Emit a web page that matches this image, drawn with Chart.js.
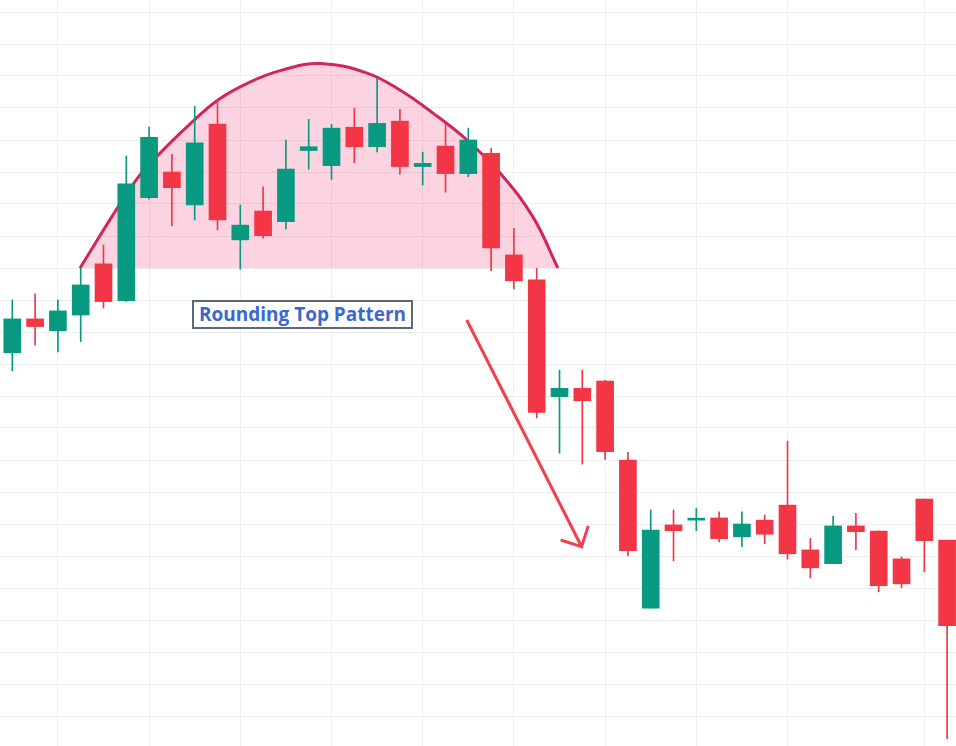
<!DOCTYPE html>
<html lang="en">
<head>
    <meta charset="UTF-8">
    <title>Rounding Top Pattern</title>
    <script src="https://cdn.jsdelivr.net/npm/chart.js"></script>
    <style>
        html, body { margin: 0; padding: 0; background: #fff; }
        #wrap { position: relative; width: 956px; height: 746px; overflow: hidden; }
        #label {
            position: absolute; left: 192px; top: 300px; width: 217px; height: 25px;
            border: 2px solid #5a6878; background: #fff;
            font: 700 19px "Open Sans", sans-serif; color: #3a68d2;
            line-height: 25px; text-align: center; white-space: nowrap;
        }
    </style>
</head>
<body>
    <div id="wrap">
        <canvas id="candleChart"></canvas>
        <div id="label">Rounding Top Pattern</div>
    </div>
    <script>
        // one entry per candle
        const opens  = [213.5, 224.1, 220.4, 225.3, 241.3, 229.8, 262.0, 270.0, 259.7, 285.0,
                        248.8, 257.8, 254.5, 276.7, 272.0, 284.0, 277.9, 285.9, 271.7, 278.1,
                        269.5, 275.8, 244.1, 236.3, 199.8, 202.4, 204.7, 180.0, 133.7, 159.7,
                        161.2, 161.9, 156.0, 161.2, 165.9, 151.9, 147.6, 159.4, 157.8, 149.1,
                        167.8, 155.0];
        const highs  = [230.0, 231.9, 230.0, 240.0, 247.2, 275.0, 284.0, 275.5, 290.6, 292.5,
                        259.7, 265.4, 280.0, 286.5, 284.9, 289.9, 299.3, 289.6, 276.2, 284.9,
                        283.7, 277.4, 252.4, 239.9, 208.1, 208.1, 204.9, 182.4, 164.4, 164.4,
                        164.9, 163.8, 163.8, 162.8, 185.9, 155.5, 162.5, 163.3, 157.8, 149.7,
                        167.8, 155.0];
        const lows   = [207.9, 215.9, 213.8, 217.0, 227.5, 229.5, 261.5, 253.2, 255.0, 251.9,
                        239.6, 249.3, 252.2, 270.9, 267.7, 272.9, 276.3, 269.3, 265.9, 263.7,
                        268.5, 239.2, 233.5, 193.2, 182.1, 178.7, 180.2, 150.1, 133.7, 148.5,
                        157.9, 154.4, 152.9, 153.8, 149.0, 143.2, 147.6, 152.0, 138.8, 140.1,
                        145.1,  92.9];
        const closes = [224.1, 221.7, 226.6, 234.7, 229.5, 266.3, 280.8, 265.1, 279.1, 255.0,
                        253.4, 250.1, 270.9, 277.9, 283.7, 277.9, 285.2, 271.7, 272.7, 269.5,
                        280.0, 246.3, 236.0, 194.9, 202.4, 198.5, 182.6, 151.7, 158.1, 157.9,
                        161.8, 155.4, 160.0, 156.8, 150.7, 146.3, 159.4, 157.6, 140.7, 141.3,
                        154.8, 128.2];

        // rounding top outline (x = candle index)
        const arcX = [2.97, 4.64, 5.60, 6.48, 7.66, 9.02, 10.42, 11.87, 13.50, 15.56, 17.0, 18.45, 19.94, 21.39, 22.84, 23.93];
        const arcY = [240.0, 259.1, 269.1, 275.9, 284.1, 292.5, 298.1, 301.9, 303.9, 300.9, 295.6, 288.4, 280.0, 269.7, 255.9, 240.0];
        const arcBase = 240;

        // arrow shaft and head
        const arrowX = [19.93, 24.97];
        const arrowY = [223.75, 152.9];
        const headX = [24.05, 24.97, 25.26];
        const headY = [155.0, 152.9, 159.4];

        // grid positions
        const xGrid = [2, 6, 10, 14, 18, 22, 26, 30, 34, 40];
        const yGrid = [100, 110, 120, 130, 140, 150, 160, 170, 180, 190, 200, 210, 220,
                       230, 240, 250, 260, 270, 280, 290, 300, 310, 320];

        const UP = '#089981';
        const DOWN = '#f23645';
        const candleColors = opens.map((o, i) => closes[i] >= o ? UP : DOWN);

        const bodies = opens.map((o, i) => ({ x: i, y: [o, closes[i]] }));
        const wicks = lows.map((l, i) => ({ x: i, y: [l, highs[i]] }));
        const arc = arcX.map((x, i) => ({ x: x, y: arcY[i] }));
        const arrow = arrowX.map((x, i) => ({ x: x, y: arrowY[i] }));
        const head = headX.map((x, i) => ({ x: x, y: headY[i] }));

        const ctx = document.getElementById('candleChart').getContext('2d');
        new Chart(ctx, {
            type: 'bar',
            data: {
                datasets: [
                    {
                        type: 'line',
                        data: arc,
                        borderColor: '#d2245f',
                        borderWidth: 3,
                        backgroundColor: 'rgba(242, 80, 130, 0.25)',
                        fill: { value: arcBase },
                        tension: 0.4,
                        pointRadius: 0,
                        order: 3,
                    },
                    {
                        data: wicks,
                        backgroundColor: candleColors,
                        barThickness: 1,
                        grouped: false,
                        order: 2,
                    },
                    {
                        data: bodies,
                        backgroundColor: candleColors,
                        barThickness: 17,
                        minBarLength: 2,
                        grouped: false,
                        order: 1,
                    },
                    {
                        type: 'line',
                        data: arrow,
                        borderColor: '#f0404f',
                        borderWidth: 3,
                        pointRadius: 0,
                        fill: false,
                        order: 0,
                    },
                    {
                        type: 'line',
                        data: head,
                        borderColor: '#f0404f',
                        borderWidth: 3,
                        pointRadius: 0,
                        fill: false,
                        order: 0,
                    },
                ],
            },
            options: {
                responsive: true,
                maintainAspectRatio: false,
                animation: false,
                layout: { padding: 0 },
                plugins: {
                    legend: { display: false },
                    tooltip: { enabled: false },
                },
                scales: {
                    x: {
                        type: 'linear',
                        min: -0.54,
                        max: 41.39,
                        offset: false,
                        afterBuildTicks: (scale) => { scale.ticks = xGrid.map(v => ({ value: v })); },
                        ticks: { display: false },
                        grid: { color: '#efefef', drawTicks: false, offset: false },
                        border: { display: false },
                    },
                    y: {
                        min: 90.625,
                        max: 323.75,
                        afterBuildTicks: (scale) => { scale.ticks = yGrid.map(v => ({ value: v })); },
                        ticks: { display: false },
                        grid: { color: '#ededed', drawTicks: false },
                        border: { display: false },
                    },
                },
            },
        });
    </script>
</body>
</html>
